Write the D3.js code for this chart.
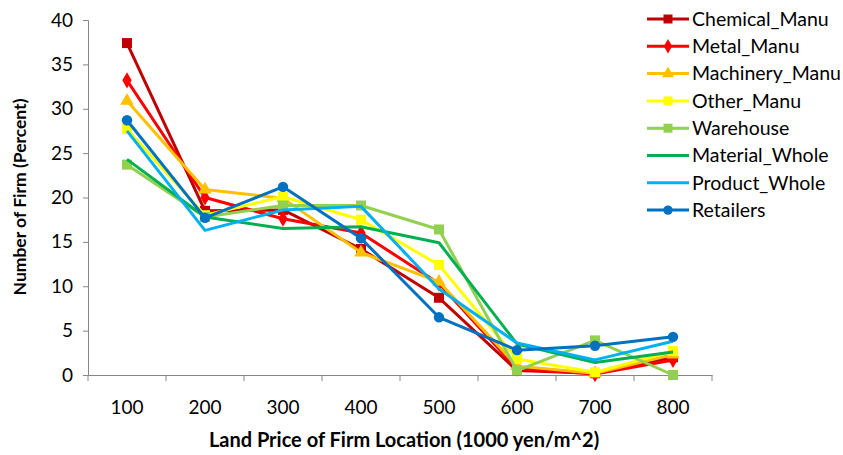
<!DOCTYPE html>
<html>
<head>
<meta charset="utf-8">
<script src="https://cdn.jsdelivr.net/npm/d3@7"></script>
<style>
  body { margin: 0; background: #fff; }
  svg { display: block; }
  text { font-family: Lato, "Open Sans", "Liberation Sans", sans-serif; fill: #000; }
</style>
</head>
<body>
<svg id="chart" width="843" height="455"></svg>
<script>
// Land price categories (1000 yen/m^2)
const categories = ["100", "200", "300", "400", "500", "600", "700", "800"];
const yTicks = [0, 5, 10, 15, 20, 25, 30, 35, 40];

// Share of firms (percent) for each industry
const chemicalManu  = [37.4, 18.5, 18.6, 14.2, 8.7, 0.5, 0.2, 2.0];
const metalManu     = [33.2, 20.0, 17.6, 16.0, 10.3, 0.7, 0.1, 1.7];
const machineryManu = [30.9, 20.9, 19.9, 13.8, 10.5, 1.0, 0.2, 2.3];
const otherManu     = [27.7, 18.0, 20.1, 17.5, 12.4, 1.8, 0.3, 2.7];
const warehouse     = [23.7, 17.8, 19.1, 19.1, 16.4, 0.5, 3.9, 0.0];
const materialWhole = [24.3, 17.8, 16.5, 16.7, 14.9, 3.5, 1.4, 2.6];
const productWhole  = [27.5, 16.3, 18.6, 19.0, 9.7, 3.6, 1.7, 3.8];
const retailers     = [28.7, 17.7, 21.2, 15.4, 6.5, 2.8, 3.3, 4.3];

const seriesNames = ["Chemical_Manu", "Metal_Manu", "Machinery_Manu", "Other_Manu",
                     "Warehouse", "Material_Whole", "Product_Whole", "Retailers"];
const seriesValues = [chemicalManu, metalManu, machineryManu, otherManu,
                      warehouse, materialWhole, productWhole, retailers];
const seriesColors = ["#C00000", "#FF0000", "#FFC000", "#FFFF00",
                      "#92D050", "#00B050", "#00B0F0", "#0070C0"];
const seriesMarkers = ["square", "diamond", "triangle", "square",
                       "square", "none", "none", "circle"];

const svg = d3.select("#chart");
const margin = { left: 88, right: 131, top: 20, bottom: 80 };
const width = 843 - margin.left - margin.right;
const height = 455 - margin.top - margin.bottom;
const axisColor = "#868686";

const g = svg.append("g").attr("transform", `translate(${margin.left},${margin.top})`);

const x = d3.scaleBand().domain(categories).range([0, width]);
const y = d3.scaleLinear().domain([0, 40]).range([height, 0]);

// Y axis
const yAxis = g.append("g").call(d3.axisLeft(y).tickValues(yTicks).tickSize(5).tickPadding(10));
yAxis.selectAll("path, line").attr("stroke", axisColor);
yAxis.selectAll("text").style("font-size", "19px").attr("fill", "#000");

// X axis with ticks between categories
const xAxis = g.append("g").attr("transform", `translate(0,${height})`)
  .call(d3.axisBottom(x).tickSize(0).tickPadding(26));
xAxis.select("path").attr("stroke", axisColor);
xAxis.selectAll("text").style("font-size", "19px").attr("fill", "#000");
const boundaries = categories.map(c => x(c)).concat([width]);
xAxis.selectAll(".boundary").data(boundaries).enter().append("line")
  .attr("x1", d => d).attr("x2", d => d).attr("y1", 0).attr("y2", 6)
  .attr("stroke", axisColor);

// Axis titles
svg.append("text")
  .attr("transform", `translate(26,197) rotate(-90)`)
  .attr("text-anchor", "middle")
  .style("font-size", "17.5px").style("font-weight", "bold")
  .text("Number of Firm (Percent)");
svg.append("text")
  .attr("x", 404).attr("y", 447)
  .attr("text-anchor", "middle")
  .style("font-size", "20px").style("font-weight", "bold")
  .text("Land Price of Firm Location (1000 yen/m^2)");

const line = d3.line()
  .x((d, i) => x(categories[i]) + x.bandwidth() / 2)
  .y(d => y(d));

function drawMarker(sel, type, color, cx, cy, size) {
  if (type === "none") return;
  const symType = { square: d3.symbolSquare, diamond: d3.symbolDiamond,
                    triangle: d3.symbolTriangle, circle: d3.symbolCircle }[type];
  const area = { square: size * size, diamond: size * size * 0.75,
                 triangle: size * size * 0.8, circle: size * size * 0.85 }[type];
  sel.append("path")
    .attr("d", d3.symbol().type(symType).size(area)())
    .attr("transform", `translate(${cx},${cy})`)
    .attr("fill", color);
}

// Series lines and markers
seriesValues.forEach((vals, si) => {
  const sg = g.append("g");
  sg.append("path")
    .datum(vals)
    .attr("d", line)
    .attr("fill", "none")
    .attr("stroke", seriesColors[si])
    .attr("stroke-width", 3)
    .attr("stroke-linejoin", "round");
  vals.forEach((v, i) => {
    drawMarker(sg, seriesMarkers[si], seriesColors[si],
      x(categories[i]) + x.bandwidth() / 2, y(v), 10);
  });
});

// Legend
const legend = svg.append("g").attr("transform", "translate(647,19)");
seriesNames.forEach((name, i) => {
  const row = legend.append("g").attr("transform", `translate(0,${i * 27.3})`);
  row.append("line").attr("x1", 0).attr("x2", 42).attr("y1", 0).attr("y2", 0)
    .attr("stroke", seriesColors[i]).attr("stroke-width", 3);
  drawMarker(row, seriesMarkers[i], seriesColors[i], 21, 0, 9);
  row.append("text").attr("x", 45).attr("y", 0).attr("dy", "0.35em")
    .style("font-size", "19.5px").text(name);
});
</script>
</body>
</html>
